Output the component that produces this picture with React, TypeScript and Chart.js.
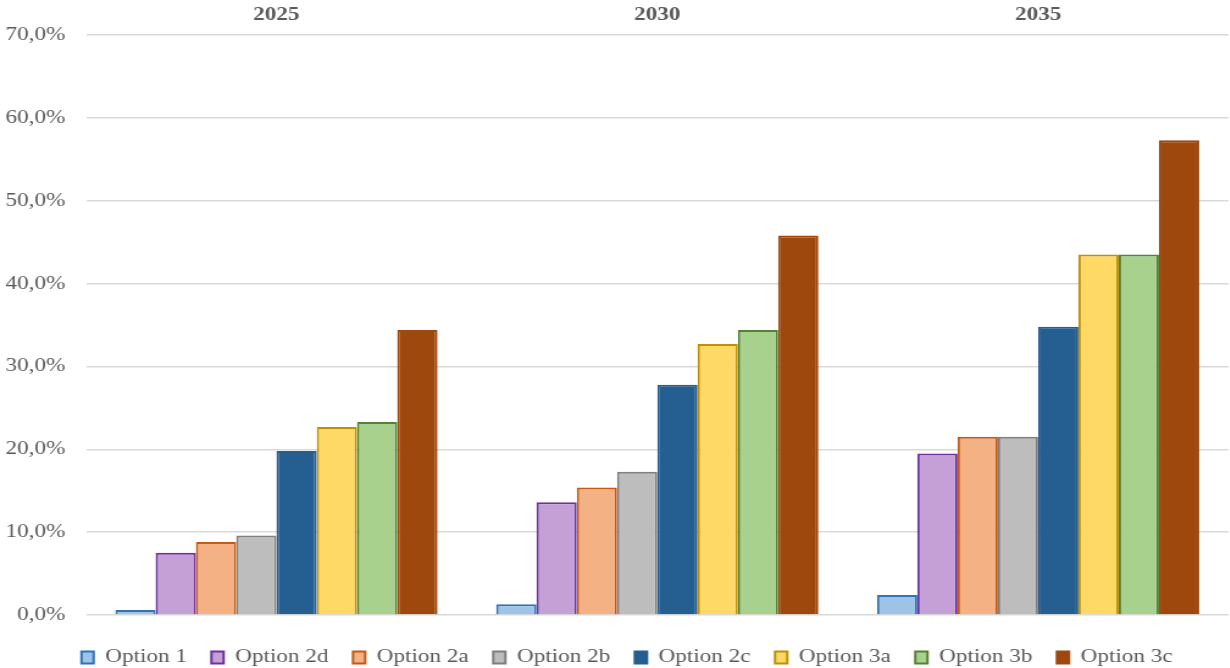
import React, { useEffect, useRef } from "react";
import { Chart, registerables } from "chart.js";

Chart.register(...registerables);

const years = ["2025", "2030", "2035"];
const seriesNames = [
  "Option 1",
  "Option 2d",
  "Option 2a",
  "Option 2b",
  "Option 2c",
  "Option 3a",
  "Option 3b",
  "Option 3c",
];

// Share (%) per option, one entry per year
const option1 = [0.6, 1.3, 2.4];
const option2d = [7.5, 13.6, 19.5];
const option2a = [8.8, 15.4, 21.5];
const option2b = [9.6, 17.3, 21.5];
const option2c = [19.8, 27.8, 34.8];
const option3a = [22.7, 32.7, 43.5];
const option3b = [23.3, 34.4, 43.5];
const option3c = [34.4, 45.8, 57.3];

const fills = ["#9DC3E6", "#C5A0D6", "#F4B183", "#BDBDBD", "#255E91", "#FFD966", "#A9D18E", "#9E480E"];
const borders = ["#2E75B6", "#7030A0", "#C55A11", "#7F7F7F", "#255E91", "#BF9000", "#538135", "#9E480E"];

const FONT = "'Liberation Serif', 'Times New Roman', serif";
const TEXT = "#595959";

// The drawing is rendered narrower and widened with a horizontal scale,
// which gives the broad serif lettering of the original slide.
const STRETCH = 1.22;
const VIEW_W = 1230;
const VIEW_H = 668;
const CANVAS_W = Math.round(VIEW_W / STRETCH);
const CANVAS_H = 677;

// nudges the legend row a little to the right of the canvas centre
const legendShift = {
  id: "legendShift",
  afterLayout(chart: any) {
    const lg = chart.legend;
    if (lg) {
      lg.left += 8.5;
      lg.right += 8.5;
    }
  },
};

export default function App() {
  const ref = useRef<HTMLCanvasElement | null>(null);

  useEffect(() => {
    document.body.style.margin = "0";
    const values = [option1, option2d, option2a, option2b, option2c, option3a, option3b, option3c];
    const chart = new Chart(ref.current!, {
      type: "bar",
      data: {
        labels: years,
        datasets: seriesNames.map((name, i) => ({
          label: name,
          data: values[i],
          backgroundColor: fills[i],
          borderColor: borders[i],
          borderWidth: 2,
          borderSkipped: "bottom",
          categoryPercentage: 0.846,
          barPercentage: 1,
        })),
      },
      plugins: [legendShift],
      options: {
        animation: false,
        responsive: false,
        maintainAspectRatio: false,
        layout: { padding: { left: 4, right: 1, top: 0, bottom: 0 } },
        scales: {
          x: {
            position: "top",
            grid: { display: false, drawTicks: false },
            border: { display: false },
            ticks: {
              color: TEXT,
              font: { family: FONT, size: 19, weight: "bold" },
              padding: 9,
            },
            afterFit: (s: any) => {
              s.height = 35;
              s.paddingLeft = 0;
              s.paddingRight = 0;
            },
          },
          y: {
            min: 0,
            max: 70,
            grid: { color: "#D9D9D9", lineWidth: 1.5, drawTicks: false },
            border: { display: false },
            ticks: {
              stepSize: 10,
              color: TEXT,
              font: { family: FONT, size: 19 },
              padding: 17,
              callback: (v: any) => Number(v).toFixed(1).replace(".", ",") + "%",
            },
            afterFit: (s: any) => {
              s.width = 66.5;
            },
          },
          // empty strip that keeps the legend clear of the plot
          gap: {
            type: "category",
            position: "bottom",
            grid: { display: false, drawTicks: false },
            border: { display: false },
            ticks: { display: false },
            afterFit: (s: any) => {
              s.height = 13;
              s.paddingLeft = 0;
              s.paddingRight = 0;
            },
          },
        },
        plugins: {
          tooltip: { enabled: false },
          legend: {
            position: "bottom",
            labels: {
              color: TEXT,
              font: { family: FONT, size: 19 },
              boxWidth: 10,
              boxHeight: 12,
              padding: 20,
            },
          },
        },
      },
    });
    return () => chart.destroy();
  }, []);

  return (
    <div style={{ width: VIEW_W, height: VIEW_H, overflow: "hidden", background: "#fff" }}>
      <div
        style={{
          width: CANVAS_W,
          height: CANVAS_H,
          transform: `scale(${STRETCH}, 1)`,
          transformOrigin: "0 0",
        }}
      >
        <canvas ref={ref} width={CANVAS_W} height={CANVAS_H} style={{ display: "block" }} />
      </div>
    </div>
  );
}
